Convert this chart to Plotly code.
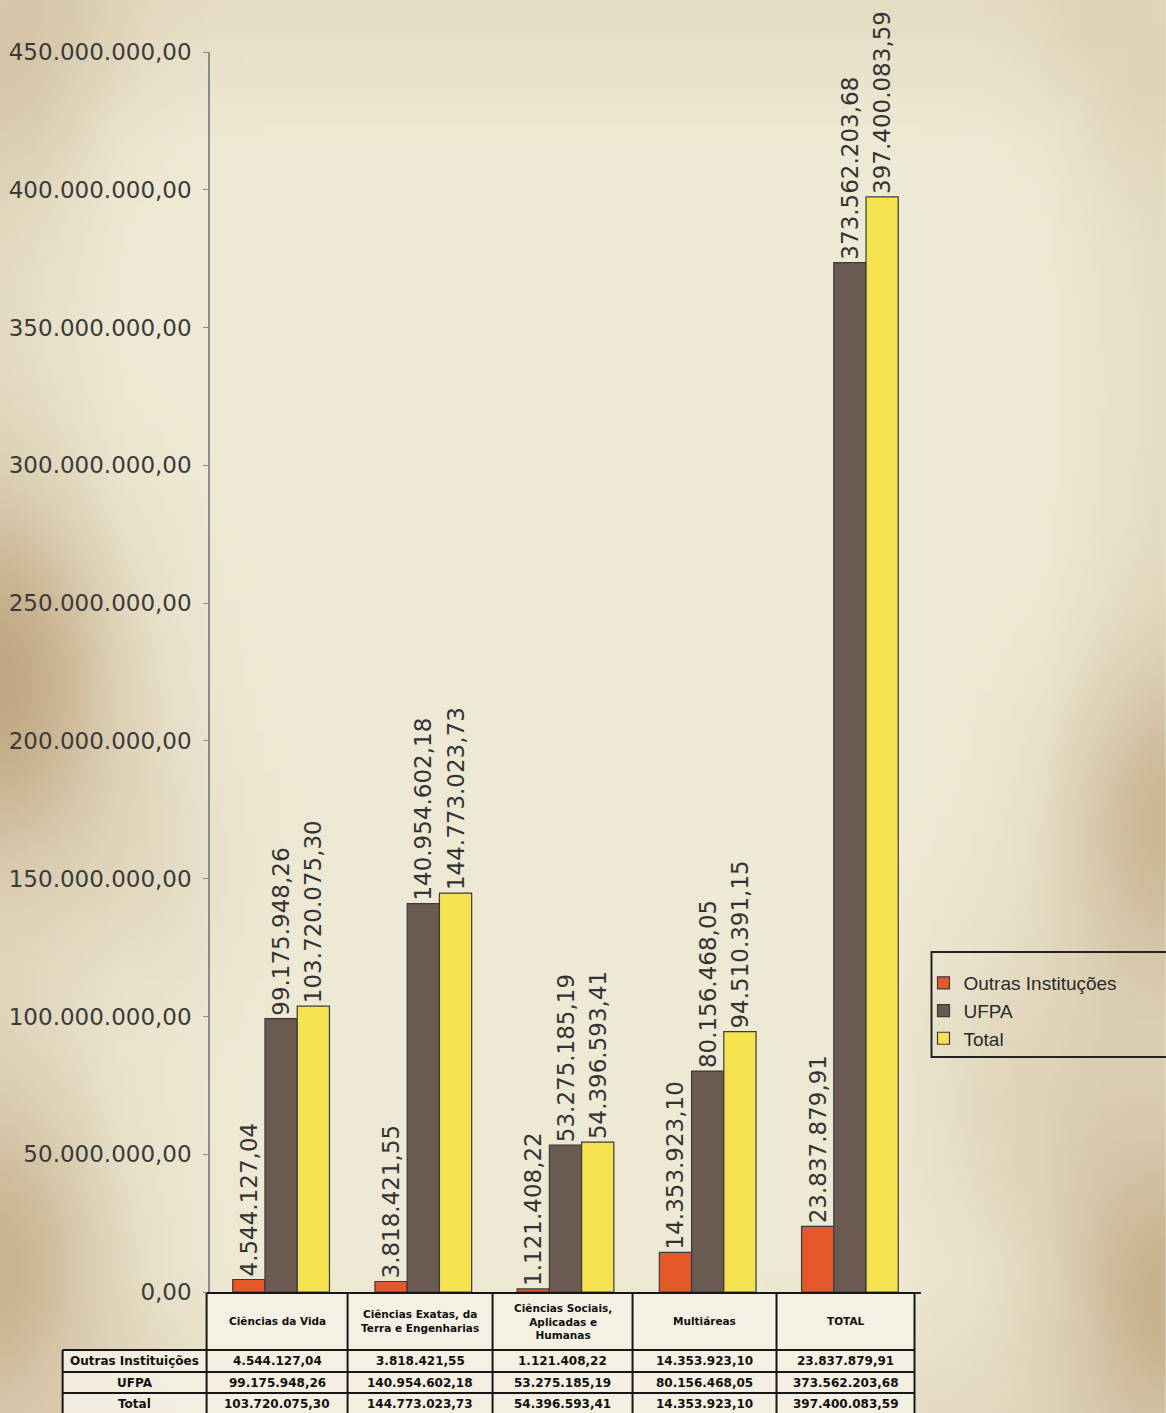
import base64, struct, zlib
import numpy as np
import plotly.graph_objects as go

# ---------------- data ----------------
categories = ["Ciências da Vida", "Ciências Exatas, da Terra e Engenharias",
              "Ciências Sociais, Aplicadas e Humanas", "Multiáreas", "TOTAL"]
outras = [4544127.04, 3818421.55, 1121408.22, 14353923.10, 23837879.91]
ufpa = [99175948.26, 140954602.18, 53275185.19, 80156468.05, 373562203.68]
total = [103720075.30, 144773023.73, 54396593.41, 94510391.15, 397400083.59]
series_names = ["Outras Instituções", "UFPA", "Total"]

y_ticks = [0, 50e6, 100e6, 150e6, 200e6, 250e6, 300e6, 350e6, 400e6, 450e6]

table_header = ["Ciências da Vida", "Ciências Exatas, da<br>Terra e Engenharias",
                "Ciências Sociais,<br>Aplicadas e<br>Humanas", "Multiáreas", "TOTAL"]
table_rows = ["Outras Instituições", "UFPA", "Total"]
table_vida = ["4.544.127,04", "99.175.948,26", "103.720.075,30"]
table_exatas = ["3.818.421,55", "140.954.602,18", "144.773.023,73"]
table_sociais = ["1.121.408,22", "53.275.185,19", "54.396.593,41"]
table_multi = ["14.353.923,10", "80.156.468,05", "14.353.923,10"]
table_total = ["23.837.879,91", "373.562.203,68", "397.400.083,59"]
table_columns = [table_vida, table_exatas, table_sociais, table_multi, table_total]

# ---------------- parchment background (generated) ----------------
W, H = 117, 142
yy, xx = np.mgrid[0:H, 0:W]
xn = xx / (W - 1)
yn = yy / (H - 1)
dark = np.zeros((H, W))
blobs = [(0.0, 0.48, 0.09, 0.65), (0.0, 0.90, 0.09, 0.5), (0.02, 0.03, 0.07, 0.3),
         (1.0, 0.58, 0.08, 0.45), (1.0, 0.93, 0.08, 0.5), (0.96, 0.04, 0.06, 0.15),
         (0.12, 0.62, 0.07, 0.15), (0.9, 0.78, 0.09, 0.25)]
for bx, by, r, s in blobs:
    d2 = ((xn - bx) * 1.2) ** 2 + (yn - by) ** 2
    dark += s * np.exp(-d2 / (2 * r * r))
edge = np.clip(np.maximum(np.abs(xn - 0.5) * 2, np.abs(yn - 0.5) * 2) - 0.8, 0, None) * 0.8
dark = np.clip(dark + edge, 0, 1)
light = np.array([239, 234, 213], float)
darkc = np.array([182, 152, 110], float)
img = (light[None, None, :] * (1 - dark[..., None]) + darkc[None, None, :] * dark[..., None]).astype(np.uint8)


def png_bytes(a):
    h, w, _ = a.shape
    raw = b"".join(b"\x00" + a[i].tobytes() for i in range(h))

    def chunk(t, d):
        c = struct.pack(">I", len(d)) + t + d
        return c + struct.pack(">I", zlib.crc32(t + d) & 0xffffffff)
    return (b"\x89PNG\r\n\x1a\n" + chunk(b"IHDR", struct.pack(">IIBBBBB", w, h, 8, 2, 0, 0, 0))
            + chunk(b"IDAT", zlib.compress(raw, 9)) + chunk(b"IEND", b""))


bg_src = "data:image/png;base64," + base64.b64encode(png_bytes(img)).decode()

# ---------------- geometry (pixels) ----------------
FIG_W, FIG_H = 1166, 1413
PLOT_L, PLOT_R, PLOT_T, PLOT_B = 210.4, 921.5, 52, 1292
PW = PLOT_R - PLOT_L
PH = PLOT_B - PLOT_T


def px(x):
    return (x - PLOT_L) / PW


def py(y):
    return (PLOT_B - y) / PH


col_edges = [63, 207, 348, 493, 633, 777, 915]
row_edges = [1293, 1350, 1372, 1393, 1414]

colors = ["#e4582a", "#6b5a52", "#f5e34f"]
label_font = dict(family="DejaVu Sans, sans-serif", size=23, color="#333333")

fig = go.Figure()
for name, vals, col in zip(series_names, [outras, ufpa, total], colors):
    fig.add_trace(go.Bar(
        x=categories, y=vals, name=name,
        marker=dict(color=col, line=dict(color="#3a3a3a", width=1.2)),
        texttemplate="%{y:,.2f}", textposition="outside", textangle=-90,
        textfont=label_font, constraintext="none", cliponaxis=False,
        hoverinfo="skip",
    ))

# ---------------- table drawn with shapes + annotations ----------------
shapes = []
annotations = []
cell_fill = "rgba(246,242,230,0.85)"
line_c = "#161616"
for ci in range(1, 6):
    shapes.append(dict(type="rect", xref="paper", yref="paper",
                       x0=px(col_edges[ci]), x1=px(col_edges[ci + 1]),
                       y0=py(row_edges[-1]), y1=py(row_edges[0]),
                       fillcolor=cell_fill, line=dict(width=0), layer="below"))
shapes.append(dict(type="rect", xref="paper", yref="paper",
                   x0=px(col_edges[0]), x1=px(col_edges[1]),
                   y0=py(row_edges[-1]), y1=py(row_edges[1]),
                   fillcolor=cell_fill, line=dict(width=0), layer="below"))
shapes.append(dict(type="line", xref="paper", yref="paper",
                   x0=px(col_edges[1]), x1=px(col_edges[-1]),
                   y0=py(row_edges[0]), y1=py(row_edges[0]), line=dict(color=line_c, width=2)))
for ry in row_edges[1:]:
    shapes.append(dict(type="line", xref="paper", yref="paper",
                       x0=px(col_edges[0]), x1=px(col_edges[-1]),
                       y0=py(ry), y1=py(ry), line=dict(color=line_c, width=2)))
shapes.append(dict(type="line", xref="paper", yref="paper",
                   x0=px(col_edges[0]), x1=px(col_edges[0]),
                   y0=py(row_edges[1]), y1=py(row_edges[-1]), line=dict(color=line_c, width=2)))
for cx in col_edges[1:]:
    shapes.append(dict(type="line", xref="paper", yref="paper",
                       x0=px(cx), x1=px(cx),
                       y0=py(row_edges[0]), y1=py(row_edges[-1]), line=dict(color=line_c, width=2)))

tfont_h = dict(family="DejaVu Sans, sans-serif", size=10.5, color="#111111")
tfont_c = dict(family="DejaVu Sans, sans-serif", size=12, color="#111111")
for ci, htxt in enumerate(table_header):
    annotations.append(dict(xref="paper", yref="paper",
                            x=px((col_edges[ci + 1] + col_edges[ci + 2]) / 2),
                            y=py((row_edges[0] + row_edges[1]) / 2),
                            text=f"<b>{htxt}</b>", showarrow=False, font=tfont_h,
                            xanchor="center", yanchor="middle", align="center"))
for ri, rtxt in enumerate(table_rows):
    yc = py((row_edges[ri + 1] + row_edges[ri + 2]) / 2)
    annotations.append(dict(xref="paper", yref="paper",
                            x=px((col_edges[0] + col_edges[1]) / 2), y=yc,
                            text=f"<b>{rtxt}</b>", showarrow=False, font=tfont_c,
                            xanchor="center", yanchor="middle"))
    for ci, colvals in enumerate(table_columns):
        annotations.append(dict(xref="paper", yref="paper",
                                x=px((col_edges[ci + 1] + col_edges[ci + 2]) / 2), y=yc,
                                text=f"<b>{colvals[ri]}</b>", showarrow=False, font=tfont_c,
                                xanchor="center", yanchor="middle"))

# legend border box
shapes.append(dict(type="rect", xref="paper", yref="paper",
                   x0=px(932), x1=px(1185), y0=py(1057), y1=py(952),
                   line=dict(color="#222222", width=2), fillcolor="rgba(0,0,0,0)"))

fig.update_layout(
    width=FIG_W, height=FIG_H,
    margin=dict(l=PLOT_L, r=FIG_W - PLOT_R, t=PLOT_T, b=FIG_H - PLOT_B, autoexpand=False),
    separators=",.",
    paper_bgcolor="#ece4cd",
    plot_bgcolor="rgba(0,0,0,0)",
    barmode="group", bargap=0.32, bargroupgap=0.0,
    images=[dict(source=bg_src, xref="paper", yref="paper",
                 x=px(0), y=py(0), sizex=FIG_W / PW, sizey=FIG_H / PH,
                 sizing="stretch", layer="below", xanchor="left", yanchor="top")],
    xaxis=dict(showticklabels=False, showline=True,
               linecolor="#222222", linewidth=1.5, ticks="", showgrid=False,
               zeroline=False, fixedrange=True),
    yaxis=dict(range=[0, 450e6], tickvals=y_ticks,
               tickformat=",.2f", showline=True, linecolor="#8a8a8a", linewidth=1.5,
               ticks="outside", ticklen=5, tickcolor="#8a8a8a", showgrid=False,
               zeroline=False, ticklabelstandoff=7,
               tickfont=dict(family="DejaVu Sans, sans-serif", size=23, color="#3a3a3a")),
    legend=dict(x=px(924), y=py(964), xanchor="left", yanchor="top",
                bgcolor="rgba(0,0,0,0)", borderwidth=0,
                font=dict(family="Liberation Sans, Arial, sans-serif", size=19, color="#2a2a2a"),
                itemwidth=30, tracegroupgap=0),
    showlegend=True,
    shapes=shapes,
    annotations=annotations,
)

fig.write_html("out.html", config={"displayModeBar": False},
               post_script="document.body.style.margin='0';document.body.style.overflow='hidden';")
